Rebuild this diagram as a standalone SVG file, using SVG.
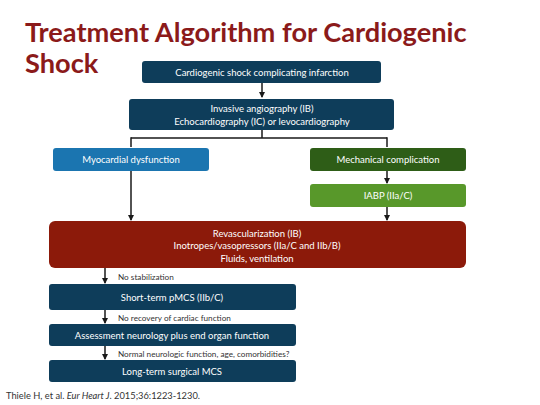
<svg xmlns="http://www.w3.org/2000/svg" width="540" height="405" viewBox="0 0 540 405">
<defs>
<marker id="ah" markerWidth="6" markerHeight="6" refX="5" refY="3" orient="auto" markerUnits="userSpaceOnUse">
<path d="M0,0 L6,3 L0,6 Z" fill="#1a1a1a"/>
</marker>
<style>
.t{font-family:Lato,"Open Sans","Liberation Sans",sans-serif;fill:#ffffff;font-size:9.5px;text-anchor:middle}
.lbl{font-family:Lato,"Open Sans","Liberation Sans",sans-serif;fill:#333333;font-size:8.2px}
.c{stroke:#1a1a1a;stroke-width:1.5;fill:none}
.navy{fill:#0e3d5a}
</style>
</defs>
<rect width="540" height="405" fill="#ffffff"/>
<text x="25" y="42" font-family="Lato,'Open Sans','Liberation Sans',sans-serif" font-weight="bold" font-size="27.2" fill="#8b1a1a">Treatment Algorithm for Cardiogenic</text>
<text x="25" y="73" font-family="Lato,'Open Sans','Liberation Sans',sans-serif" font-weight="bold" font-size="27.2" fill="#8b1a1a">Shock</text>

<g id="connectors">
<path class="c" d="M262,83 V97" marker-end="url(#ah)"/>
<path class="c" d="M262,130 V138 M131,138 H387"/>
<path class="c" d="M131,137.25 V147"/>
<path class="c" d="M387,137.25 V147"/>
<path class="c" d="M387,171 V183" marker-end="url(#ah)"/>
<path class="c" d="M131,171 V220" marker-end="url(#ah)"/>
<path class="c" d="M387,207 V220" marker-end="url(#ah)"/>
<path class="c" d="M105,268 V283" marker-end="url(#ah)"/>
<path class="c" d="M105,310 V323" marker-end="url(#ah)"/>
<path class="c" d="M105,346 V359" marker-end="url(#ah)"/>
<text class="lbl" x="118" y="280">No stabilization</text>
<text class="lbl" x="118" y="321">No recovery of cardiac function</text>
<text class="lbl" x="118" y="357">Normal neurologic function, age, comorbidities?</text>
</g>

<g id="n1">
<rect class="navy" x="142" y="61" width="239" height="22" rx="3"/>
<text class="t" x="262" y="75.5">Cardiogenic shock complicating infarction</text>
</g>
<g id="n2">
<rect class="navy" x="129" y="99" width="265" height="31" rx="3"/>
<text class="t" x="262" y="112">Invasive angiography (IB)</text>
<text class="t" x="262" y="125">Echocardiography (IC) or levocardiography</text>
</g>
<g id="n3">
<rect x="53" y="148" width="156" height="23" rx="3" fill="#1b75b0"/>
<text class="t" x="131" y="163">Myocardial dysfunction</text>
</g>
<g id="n4">
<rect x="310" y="148" width="156" height="23" rx="3" fill="#2e5d17"/>
<text class="t" x="388" y="163">Mechanical complication</text>
</g>
<g id="n5">
<rect x="310" y="184" width="156" height="23" rx="3" fill="#58982a"/>
<text class="t" x="388" y="199">IABP (IIa/C)</text>
</g>
<g id="n6">
<rect x="49" y="221" width="417" height="47" rx="6" fill="#8c1a0a"/>
<text class="t" x="257" y="236.5">Revascularization (IB)</text>
<text class="t" x="257" y="249">Inotropes/vasopressors (IIa/C and IIb/B)</text>
<text class="t" x="257" y="261.5">Fluids, ventilation</text>
</g>
<g id="n7">
<rect class="navy" x="49" y="284" width="247" height="26" rx="3"/>
<text class="t" x="172" y="300.5">Short-term pMCS (IIb/C)</text>
</g>
<g id="n8">
<rect class="navy" x="49" y="324" width="247" height="22" rx="3"/>
<text class="t" x="172" y="338.5">Assessment neurology plus end organ function</text>
</g>
<g id="n9">
<rect class="navy" x="49" y="360" width="247" height="22" rx="3"/>
<text class="t" x="172" y="374.5">Long-term surgical MCS</text>
</g>
<text x="6" y="399" font-family="Lato,'Open Sans','Liberation Sans',sans-serif" font-size="9.3" fill="#333333">Thiele H, et al. <tspan font-style="italic">Eur Heart J</tspan>. 2015;36:1223-1230.</text>
</svg>
